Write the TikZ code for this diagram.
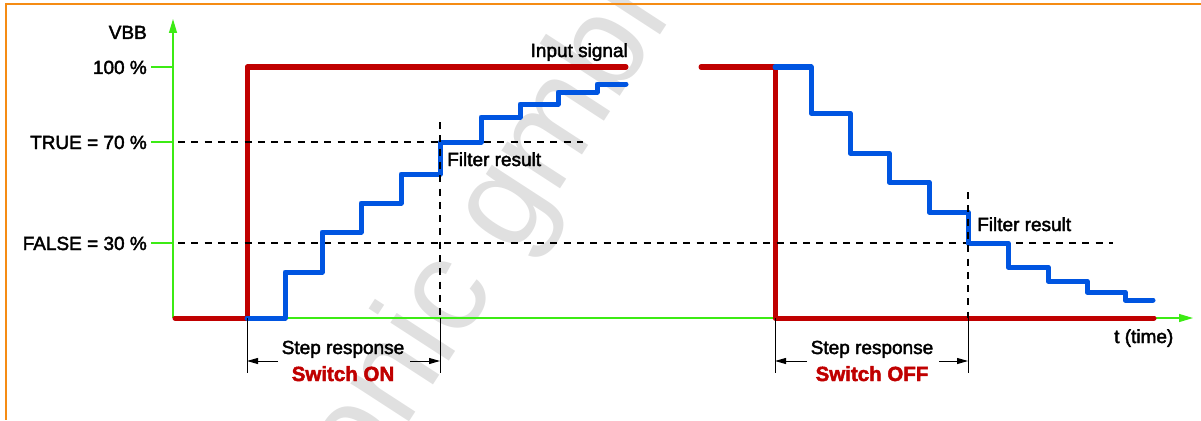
\documentclass[tikz,border=0pt]{standalone}
\usepackage{fontspec}
\setmainfont{Liberation Sans}[FakeBold=2.2]
\newfontfamily\wmfont{Liberation Sans}
\usetikzlibrary{arrows.meta}
\definecolor{sigred}{RGB}{192,0,0}
\definecolor{sigblue}{RGB}{0,85,225}
\definecolor{axisgreen}{RGB}{60,235,20}
\definecolor{frameorange}{RGB}{245,140,20}
\definecolor{wmgray}{RGB}{224,224,224}

\begin{document}
\begin{tikzpicture}[x=1pt,y=-1pt,
  axis/.style={draw=axisgreen, line width=1.2pt},
  axisarrow/.style={axis, -{Triangle[length=14pt,width=8pt,fill=axisgreen]}},
  input/.style={draw=sigred, line width=5pt, line cap=round, line join=round},
  filtered/.style={draw=sigblue, line width=5pt, line cap=round, line join=round},
  level/.style={draw=black, line width=2pt, dash pattern=on 7pt off 6.3pt},
  guide/.style={draw=black, line width=1pt},
  dimarrow/.style={draw=black, line width=1pt, -{Triangle[length=11pt,width=6pt]}},
  lbl/.style={font=\fontsize{19}{22}\selectfont, inner sep=0pt},
  sw/.style={font=\fontsize{20.5}{24}\selectfont\bfseries, text=sigred, inner sep=0pt},
  wm/.style={font=\wmfont\fontsize{132}{140}\selectfont, text=wmgray, inner sep=0pt},
]
\useasboundingbox (0,0) rectangle (1201,420);

% watermark
\begin{scope}
  \clip (0,0) rectangle (1201,420);
  \node[wm, rotate=57, anchor=base] (wmark) at (530,236) {onic gmbh};
\end{scope}

% frame
\coordinate (fTR) at (1201,4);
\coordinate (fTL) at (6,4);
\coordinate (fBL) at (6,420);
\draw[frameorange, line width=2pt] (fTR) -- (fTL) -- (fBL);

% axes
\coordinate (O) at (173,318);
\coordinate (ytop) at (173,19);
\coordinate (xend) at (1193,318);
\draw[axisarrow] (O) -- (ytop);
\draw[axisarrow] (O) -- (xend);

% level ticks
\coordinate (t100) at (151,67);
\coordinate (t70) at (151,142);
\coordinate (t30) at (151,243);
\draw[axis] (t100) -- (t100 -| O);
\draw[axis] (t70) -- (t70 -| O);
\draw[axis] (t30) -- (t30 -| O);

% axis labels
\node[lbl, anchor=base east] (lvbb) at (147,39) {VBB};
\node[lbl, anchor=base east] (l100) at (147,74) {100 \%};
\node[lbl, anchor=base east] (l70) at (147,149) {TRUE = 70 \%};
\node[lbl, anchor=base east] (l30) at (147,250) {FALSE = 30 \%};
\node[lbl, anchor=base west] (ltime) at (1114,343) {t (time)};

% input signal
\draw[input] (175,318) -- (247,318) -- (247,67) -- (626,67);
\draw[input] (701,67) -- (775,67) -- (775,318) -- (1154,318);
\node[lbl, anchor=base east] (linput) at (628,57) {Input signal};

% threshold levels
\coordinate (d70a) at (178,142);
\coordinate (d70b) at (583,142);
\coordinate (d30a) at (178,243);
\coordinate (d30b) at (1113,243);
\draw[level] (d70a) -- (d70b);
\draw[level] (d30a) -- (d30b);

% filter result, switch on
\draw[filtered] (247,318) -- (285,318) -- (285,272) -- (322,272) -- (322,232)
  -- (361,232) -- (361,203) -- (401,203) -- (401,174) -- (440,174) -- (440,142)
  -- (481,142) -- (481,117) -- (520,117) -- (520,104) -- (558,104) -- (558,92)
  -- (597,92) -- (597,84) -- (626,84);
% filter result, switch off
\draw[filtered] (775,67) -- (811,67) -- (811,113) -- (850,113) -- (850,153)
  -- (889,153) -- (889,182) -- (929,182) -- (929,212) -- (968,212) -- (968,243)
  -- (1008,243) -- (1008,267) -- (1048,267) -- (1048,281) -- (1087,281)
  -- (1087,292) -- (1125,292) -- (1125,300) -- (1153,300);

\node[lbl, anchor=base west] (lfon) at (447,166) {Filter result};
\node[lbl, anchor=base west] (lfoff) at (977,231) {Filter result};

% step response markers
\coordinate (onA) at (247,318);
\coordinate (onA2) at (247,373);
\coordinate (onBtop) at (440,122);
\coordinate (onB) at (440,318);
\coordinate (onB2) at (440,373);
\coordinate (offA) at (775,318);
\coordinate (offA2) at (775,373);
\coordinate (offBtop) at (968,192);
\coordinate (offB) at (968,318);
\coordinate (offB2) at (968,373);
\draw[level] (onBtop) -- (onB);
\draw[level] (offBtop) -- (offB);
\draw[guide] (onA) -- (onA2);
\draw[guide] (onB) -- (onB2);
\draw[guide] (offA) -- (offA2);
\draw[guide] (offB) -- (offB2);

\node[lbl, anchor=base] (sron) at (343,354) {Step response};
\node[sw, anchor=base] (swon) at (343,381) {Switch ON};
\node[lbl, anchor=base] (sroff) at (872,354) {Step response};
\node[sw, anchor=base] (swoff) at (872,381) {Switch OFF};

\coordinate (aonL) at (278,361);
\coordinate (aonR) at (410,361);
\coordinate (aoffL) at (807,361);
\coordinate (aoffR) at (939,361);
\draw[dimarrow] (aonL) -- (aonL -| onA);
\draw[dimarrow] (aonR) -- (aonR -| onB);
\draw[dimarrow] (aoffL) -- (aoffL -| offA);
\draw[dimarrow] (aoffR) -- (aoffR -| offB);
\end{tikzpicture}
\end{document}
